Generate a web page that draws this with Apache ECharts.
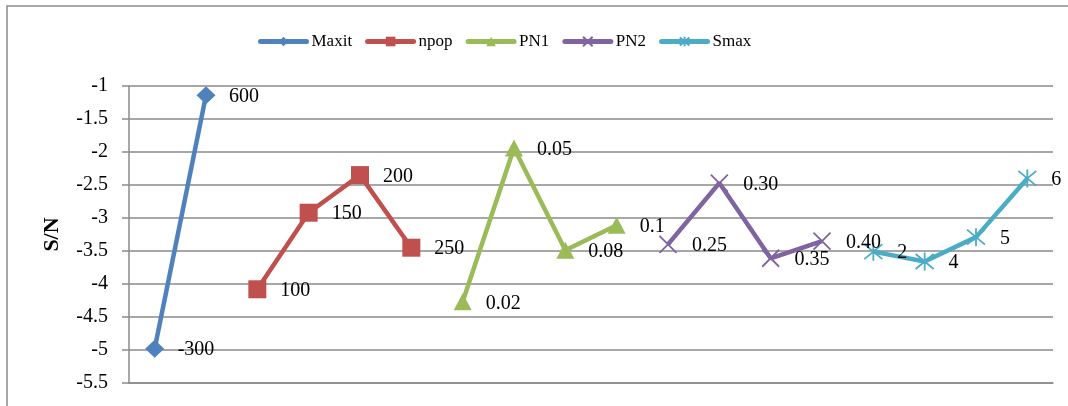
<!DOCTYPE html>
<html>
<head>
<meta charset="utf-8">
<script src="https://cdn.jsdelivr.net/npm/echarts@6/dist/echarts.min.js"></script>
<style>
  html, body { margin: 0; padding: 0; background: #fff; }
  #chart { width: 1068px; height: 406px; }
</style>
</head>
<body>
<div id="chart"></div>
<script>
// Factor levels (label text) and mean S/N ratio for each level
const maxitLevels = ['-300', '600'];
const maxitSN = [-4.98, -1.14];
const npopLevels = ['100', '150', '200', '250'];
const npopSN = [-4.08, -2.92, -2.35, -3.45];
const pn1Levels = ['0.02', '0.05', '0.08', '0.1'];
const pn1SN = [-4.27, -1.94, -3.49, -3.11];
const pn2Levels = ['0.25', '0.30', '0.35', '0.40'];
const pn2SN = [-3.40, -2.47, -3.61, -3.35];
const smaxLevels = ['2', '4', '5', '6'];
const smaxSN = [-3.51, -3.66, -3.29, -2.40];

// y-axis range and tick step
const yMin = -5.5, yMax = -1, yStep = 0.5;

const factors = [
  { name: 'Maxit', levels: maxitLevels, values: maxitSN, color: '#4F81BD', symbol: 'diamond', size: [19, 18] },
  { name: 'npop', levels: npopLevels, values: npopSN, color: '#C0504D', symbol: 'rect', size: [18, 18] },
  { name: 'PN1', levels: pn1Levels, values: pn1SN, color: '#9BBB59', symbol: 'triangle', size: [18, 17] },
  { name: 'PN2', levels: pn2Levels, values: pn2SN, color: '#8064A2', symbol: 'path://M0,0L10,10M10,0L0,10', size: [17, 17], stroke: true },
  { name: 'Smax', levels: smaxLevels, values: smaxSN, color: '#4BACC6', symbol: 'path://M0,0L10,10M10,0L0,10M5,-1L5,11', size: [18, 18], stroke: true }
];

// One category slot per factor level, laid out factor after factor
const categories = [];
factors.forEach(f => f.levels.forEach(l => categories.push(f.name + ' ' + l)));

const serif = "'Times New Roman', 'Liberation Serif', serif";

let offset = 0;
const series = factors.map(f => {
  const data = categories.map(() => null);
  f.values.forEach((v, i) => {
    data[offset + i] = {
      value: v,
      label: { formatter: f.levels[i] }
    };
  });
  offset += f.values.length;
  return {
    name: f.name,
    type: 'line',
    data: data,
    symbol: f.symbol,
    symbolSize: f.size,
    showAllSymbol: true,
    connectNulls: false,
    lineStyle: { color: f.color, width: 4.5 },
    itemStyle: f.stroke
      ? { color: f.color, borderColor: f.color, borderWidth: 1.8 }
      : { color: f.color },
    label: {
      show: true,
      position: 'right',
      distance: 23 - f.size[0] / 2,
      offset: [0, 1.5],
      color: '#000',
      fontFamily: serif,
      fontSize: 20
    },
    emphasis: { disabled: true },
    animation: false,
    z: 3
  };
});

const chart = echarts.init(document.getElementById('chart'), null, { renderer: 'canvas' });
chart.setOption({
  backgroundColor: '#fff',
  animation: false,
  graphic: [{
    type: 'rect',
    shape: { x: 7, y: 6, width: 1200, height: 500 },
    style: { fill: 'none', stroke: '#8a8a8a', lineWidth: 1.5 },
    silent: true,
    z: 0
  }],
  legend: {
    left: 253,
    top: 28,
    itemWidth: 46,
    itemHeight: 12,
    itemGap: 13,
    lineStyle: { width: 5, cap: 'round' },
    textStyle: { fontFamily: serif, fontSize: 17, color: '#000' },
    data: factors.map(f => f.name)
  },
  grid: { left: 129, right: 15, top: 86, bottom: 23, containLabel: false },
  xAxis: {
    type: 'category',
    data: categories,
    boundaryGap: true,
    axisLine: { show: true, lineStyle: { color: '#8a8a8a', width: 1.5 } },
    axisTick: { show: false },
    axisLabel: { show: false },
    splitLine: { show: false }
  },
  yAxis: {
    type: 'value',
    min: yMin,
    max: yMax,
    interval: yStep,
    name: 'S/N',
    nameLocation: 'middle',
    nameGap: 66,
    nameTextStyle: { fontFamily: serif, fontSize: 22, fontWeight: 'bold', color: '#000' },
    axisLine: { show: true, lineStyle: { color: '#8a8a8a', width: 1.5 } },
    axisTick: { show: true, length: 7, lineStyle: { color: '#8a8a8a', width: 1.5 } },
    axisLabel: { fontFamily: serif, fontSize: 20, color: '#000', margin: 21 },
    splitLine: { show: true, lineStyle: { color: '#8a8a8a', width: 1.5 } }
  },
  series: series
});
</script>
</body>
</html>
